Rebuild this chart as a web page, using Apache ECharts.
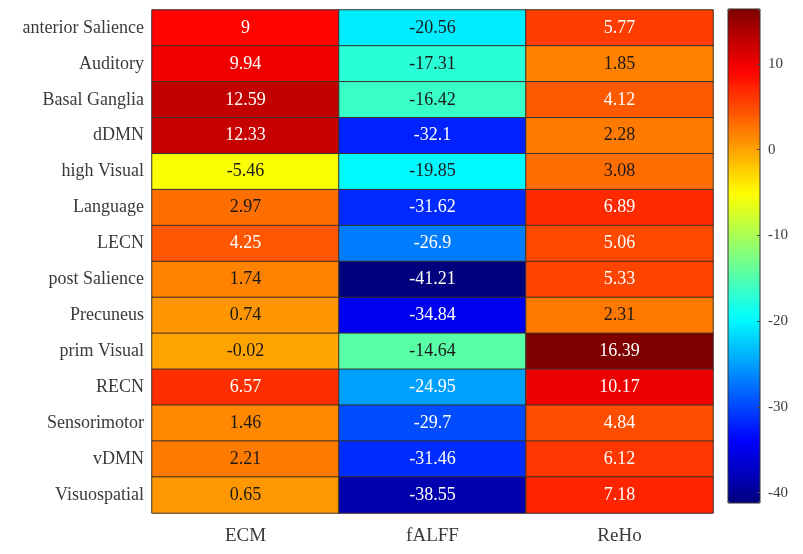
<!DOCTYPE html>
<html>
<head>
<meta charset="utf-8">
<script src="https://cdn.jsdelivr.net/npm/echarts@6/dist/echarts.min.js"></script>
<style>
  html, body { margin: 0; padding: 0; background: #fff; }
  #chart { width: 803px; height: 554px; }
</style>
</head>
<body>
<div id="chart"></div>
<script>
// 行（网络名称）
const networks = [
  "anterior Salience", "Auditory", "Basal Ganglia", "dDMN", "high Visual",
  "Language", "LECN", "post Salience", "Precuneus", "prim Visual",
  "RECN", "Sensorimotor", "vDMN", "Visuospatial"
];
// 列（指标）
const metrics = ["ECM", "fALFF", "ReHo"];

// 各指标数值
const ecm = [9, 9.94, 12.59, 12.33, -5.46, 2.97, 4.25, 1.74, 0.74, -0.02, 6.57, 1.46, 2.21, 0.65];
const falff = [-20.56, -17.31, -16.42, -32.1, -19.85, -31.62, -26.9, -41.21, -34.84, -14.64, -24.95, -29.7, -31.46, -38.55];
const reho = [5.77, 1.85, 4.12, 2.28, 3.08, 6.89, 5.06, 5.33, 2.31, 16.39, 10.17, 4.84, 6.12, 7.18];

// 色条刻度
const barTicks = [10, 0, -10, -20, -30, -40];

// jet 色表
const jet = ["#00007f", "#0000ff", "#007fff", "#00ffff", "#7fff7f", "#ffff00", "#ff7f00", "#ff0000", "#7f0000"];

const columns = [ecm, falff, reho];
const all = ecm.concat(falff, reho);
const vmin = Math.min(...all);
const vmax = Math.max(...all);

// 深色格子用白字，浅色格子用黑字
function textColor(v) {
  return (v > 3.5 || v < -22) ? "#ffffff" : "#1a1a1a";
}

let data = [];
columns.forEach((col, xi) => {
  col.forEach((v, yi) => {
    data.push({
      value: [xi, yi, v],
      label: { color: textColor(v) }
    });
  });
});

const serif = "'Liberation Serif', 'Times New Roman', serif";

const chart = echarts.init(document.getElementById("chart"));
const option = {
  backgroundColor: "#fff",
  animation: false,
  grid: [
    { left: 152, top: 10, width: 561, height: 503 },
    {
      left: 728, top: 9, width: 32, height: 494,
      show: true, z: 10,
      backgroundColor: "transparent",
      borderColor: "#333", borderWidth: 1
    }
  ],
  xAxis: [
    {
      type: "category",
      gridIndex: 0,
      data: metrics,
      position: "bottom",
      axisLine: { show: false },
      axisTick: { show: false },
      splitLine: { show: false },
      axisLabel: { color: "#3a3a3a", fontFamily: serif, fontSize: 19, margin: 14 }
    },
    {
      type: "value",
      gridIndex: 1,
      show: false
    }
  ],
  yAxis: [
    {
      type: "category",
      gridIndex: 0,
      data: networks,
      inverse: true,
      axisLine: { show: false },
      axisTick: { show: false },
      splitLine: { show: false },
      axisLabel: { color: "#3a3a3a", fontFamily: serif, fontSize: 18, margin: 8 }
    },
    {
      type: "value",
      gridIndex: 1,
      position: "right",
      min: vmin,
      max: vmax,
      z: 11,
      axisLine: { show: false, onZero: false },
      splitLine: { show: false },
      axisTick: {
        show: true,
        inside: true,
        length: 3,
        customValues: barTicks,
        lineStyle: { color: "#444" }
      },
      axisLabel: {
        color: "#3a3a3a",
        fontFamily: serif,
        fontSize: 15,
        margin: 8,
        customValues: barTicks
      }
    }
  ],
  visualMap: {
    type: "continuous",
    seriesIndex: 0,
    min: vmin,
    max: vmax,
    calculable: false,
    hoverLink: false,
    left: 728,
    top: 9,
    padding: 0,
    itemWidth: 32,
    itemHeight: 494,
    text: null,
    inRange: { color: jet }
  },
  series: [
    {
      type: "heatmap",
      xAxisIndex: 0,
      yAxisIndex: 0,
      data: data,
      itemStyle: { borderColor: "#3b3228", borderWidth: 1 },
      label: {
        show: true,
        fontFamily: serif,
        fontSize: 18,
        formatter: p => String(p.value[2])
      },
      emphasis: { disabled: true }
    }
  ]
};
chart.setOption(option);
</script>
</body>
</html>
